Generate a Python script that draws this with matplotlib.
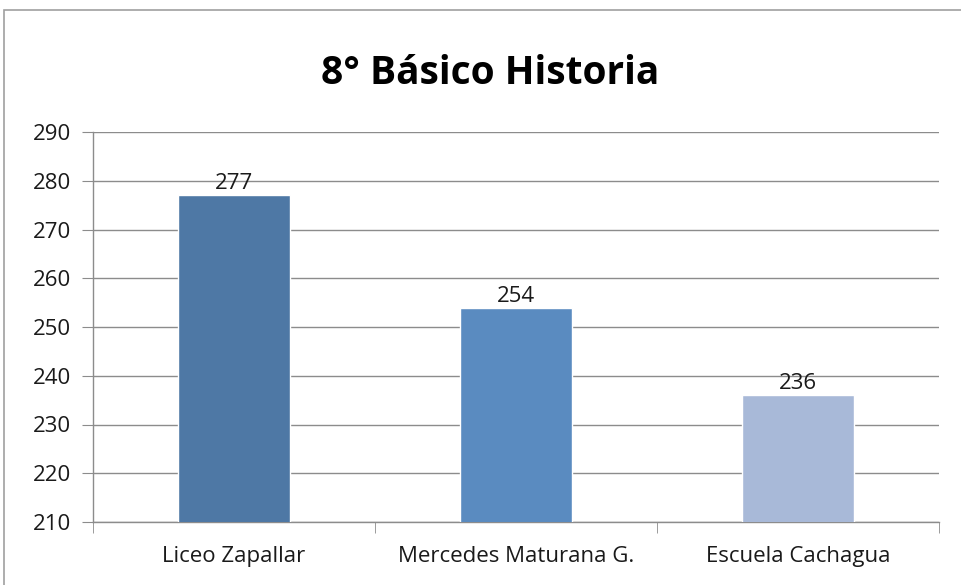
import matplotlib
matplotlib.use("Agg")
import matplotlib.pyplot as plt
from matplotlib.patches import Rectangle
import numpy as np

schools = ["Liceo Zapallar", "Mercedes Maturana G.", "Escuela Cachagua"]
scores = [277, 254, 236]
bar_colors = ["#4E78A5", "#5A8BC0", "#A8B9D8"]
y_ticks = [210, 220, 230, 240, 250, 260, 270, 280, 290]

plt.rcParams["font.family"] = ["Open Sans", "DejaVu Sans"]

fig = plt.figure(figsize=(9.61, 5.85), dpi=100)
# outer chart frame
fig.patches.append(Rectangle((4 / 961, -0.1), 1.2, 1 - 10 / 585 + 0.1,
                             transform=fig.transFigure, fill=False,
                             edgecolor="#a0a0a0", linewidth=1.2))

ax = fig.add_axes([93 / 961, 1 - 522 / 585, (939 - 93) / 961, (522 - 132) / 585])
x = np.arange(len(schools))
bars = ax.bar(x, scores, width=0.4, color=bar_colors, bottom=0,
              edgecolor="white", linewidth=1.0, zorder=3)
for b, v in zip(bars, scores):
    ax.text(b.get_x() + b.get_width() / 2, v + 0.2, str(v), ha="center", va="bottom",
            fontsize=16, color="#1a1a1a", zorder=4)

ax.set_xlim(-0.5, len(schools) - 0.5)
ax.set_ylim(210, 290)
ax.set_yticks(y_ticks)
ax.grid(axis="y", color="#8c8c8c", linewidth=1.0, zorder=0)
ax.set_axisbelow(True)

ax.set_xticks(x)
ax.set_xticklabels(schools, fontsize=16, color="#1a1a1a")
ax.set_xticks(np.arange(len(schools) + 1) - 0.5, minor=True)
ax.tick_params(axis="x", which="major", length=0, pad=17)
ax.tick_params(axis="x", which="minor", length=8, direction="out", color="#8c8c8c")
ax.tick_params(axis="y", length=8, direction="out", color="#8c8c8c", labelsize=16,
               labelcolor="#1a1a1a", pad=8)

for s in ["top", "right"]:
    ax.spines[s].set_visible(False)
for s in ["left", "bottom"]:
    ax.spines[s].set_color("#8c8c8c")
    ax.spines[s].set_linewidth(1.0)

fig.text(0.51, 1 - 74 / 585, "8° Básico Historia", ha="center", va="center",
         fontsize=28, fontweight="bold", color="black")

fig.savefig("out.png", dpi=100)
